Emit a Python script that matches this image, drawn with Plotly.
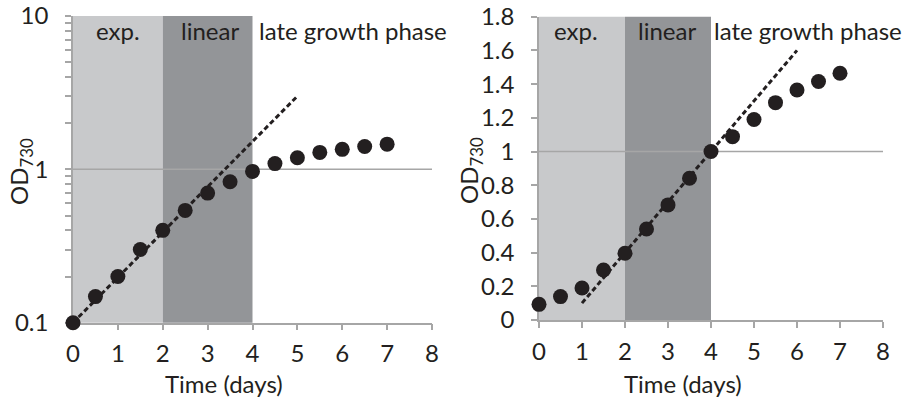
import plotly.graph_objects as go

# ---- data ----
time_days = [0, 0.5, 1, 1.5, 2, 2.5, 3, 3.5, 4, 4.5, 5, 5.5, 6, 6.5, 7]
od_log_panel = [0.1, 0.148, 0.2, 0.3, 0.4, 0.54, 0.7, 0.83, 0.97, 1.09, 1.19, 1.29, 1.35, 1.41, 1.46]
od_lin_panel = [0.093, 0.139, 0.19, 0.297, 0.396, 0.54, 0.683, 0.841, 1.0, 1.088, 1.19, 1.29, 1.365, 1.415, 1.464]

exp_fit_x = [0, 5]
exp_fit_y = [0.1, 3.0]
lin_fit_x = [1, 6]
lin_fit_y = [0.1, 1.6]

phase_bounds = [0, 2, 4]
phase_labels = ["exp.", "linear", "late growth phase"]

x_ticks = [0, 1, 2, 3, 4, 5, 6, 7, 8]
log_major = [0.1, 1, 10]
log_minor = [0.2, 0.3, 0.4, 0.5, 0.6, 0.7, 0.8, 0.9,
             2, 3, 4, 5, 6, 7, 8, 9]
lin_ticks = [0, 0.2, 0.4, 0.6, 0.8, 1, 1.2, 1.4, 1.6, 1.8]

# ---- styles ----
FONT = "Lato"
TXT = "#231f20"
AX = "#a6a6a6"
LIGHT = "#c8c9cb"
DARK = "#939598"
FS = 24

fig = go.Figure()

for xa, ya, od, fx, fy in [("x", "y", od_log_panel, exp_fit_x, exp_fit_y),
                           ("x2", "y2", od_lin_panel, lin_fit_x, lin_fit_y)]:
    fig.add_trace(go.Scatter(x=fx, y=fy, mode="lines", xaxis=xa, yaxis=ya,
                             line=dict(color=TXT, width=3, dash="5px,3px"),
                             showlegend=False, hoverinfo="skip"))
    fig.add_trace(go.Scatter(x=time_days, y=od, mode="markers", xaxis=xa, yaxis=ya,
                             marker=dict(color=TXT, size=15),
                             cliponaxis=False, showlegend=False))

shapes = []
annotations = []
for xr, yr, exp_x, lin_x, late_x in [("x", "y", 1.01, 3.05, 4.1), ("x2", "y2", 0.87, 2.98, 4.03)]:
    shapes.append(dict(type="rect", xref=xr, yref=yr + " domain", x0=phase_bounds[0], x1=phase_bounds[1],
                       y0=0, y1=1, fillcolor=LIGHT, line=dict(width=0), layer="below"))
    shapes.append(dict(type="rect", xref=xr, yref=yr + " domain", x0=phase_bounds[1], x1=phase_bounds[2],
                       y0=0, y1=1, fillcolor=DARK, line=dict(width=0), layer="below"))
    shapes.append(dict(type="line", xref=xr, yref=yr, x0=0, x1=8, y0=1, y1=1,
                       line=dict(color=AX, width=1.5), layer="below"))
    for txt, xv, anc in zip(phase_labels, [exp_x, lin_x, late_x], ["center", "center", "left"]):
        annotations.append(dict(text=txt, xref=xr, yref="paper", x=xv, y=(401 - 30) / 401,
                                xanchor=anc, yanchor="middle", showarrow=False,
                                font=dict(family=FONT, size=FS, color=TXT)))

for xc in [223.7, 683]:
    annotations.append(dict(text="Time (days)", xref="paper", yref="paper", x=xc / 911,
                            y=(401 - 383) / 401, xanchor="center", yanchor="middle",
                            showarrow=False, font=dict(family=FONT, size=FS, color=TXT)))
for xc, yc in [(20, 172), (470, 170)]:
    annotations.append(dict(text="OD<sub>730</sub>", xref="paper", yref="paper", x=xc / 911,
                            y=(401 - yc) / 401, xanchor="center", yanchor="middle", textangle=-90,
                            showarrow=False, font=dict(family=FONT, size=FS, color=TXT)))

xcommon = dict(range=[0, 8], tickvals=x_ticks, ticks="outside", ticklen=6, tickwidth=1.5,
               tickcolor=AX, showline=True, linecolor=AX, linewidth=1.5, showgrid=False,
               zeroline=False, tickfont=dict(family=FONT, size=FS, color=TXT),
               ticklabelstandoff=3, automargin=False, layer="below traces")
ycommon = dict(ticks="outside", ticklen=6, tickwidth=1.5, tickcolor=AX, showline=True,
               linecolor=AX, linewidth=1.5, showgrid=False, zeroline=False,
               tickfont=dict(family=FONT, size=FS, color=TXT), ticklabelstandoff=12,
               automargin=False, layer="below traces")

fig.update_layout(
    width=911, height=401,
    margin=dict(l=0, r=0, t=0, b=0),
    paper_bgcolor="white", plot_bgcolor="rgba(0,0,0,0)",
    xaxis=dict(domain=[73 / 911, 432 / 911], anchor="y", **xcommon),
    yaxis=dict(domain=[(401 - 322.7) / 401, (401 - 16) / 401], anchor="x", type="log",
               range=[-1, 1], tickvals=log_major, ticktext=["0.1", "1", "10"],
               minor=dict(tickvals=log_minor, ticks="outside", ticklen=6, tickwidth=1.5,
                          tickcolor=AX, showgrid=False),
               **ycommon),
    xaxis2=dict(domain=[539 / 911, 883 / 911], anchor="y2", **xcommon),
    yaxis2=dict(domain=[(401 - 320) / 401, (401 - 16.7) / 401], anchor="x2",
                range=[0, 1.8], tickvals=lin_ticks, **ycommon),
    shapes=shapes, annotations=annotations, showlegend=False,
    font=dict(family=FONT, color=TXT),
)

fig.write_html("out.html")
